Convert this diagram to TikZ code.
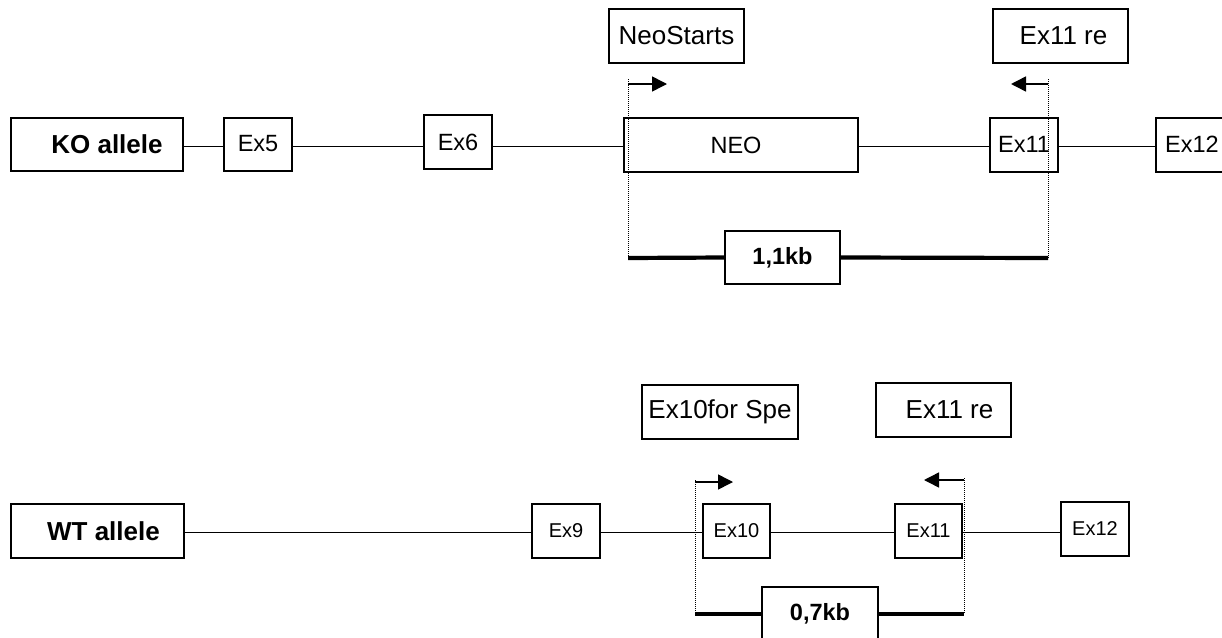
\documentclass[tikz,border=0pt]{standalone}
\usepackage{fontspec}
\setmainfont{Liberation Sans}
\usetikzlibrary{arrows.meta}
\begin{document}
\begin{tikzpicture}[x=1pt,y=-1pt,
  box/.style={draw=black, line width=1.8pt, inner sep=0pt, minimum height=54pt, anchor=center},
  lbl/.style={font=\fontsize{26}{30}\selectfont},
  lblb/.style={font=\fontsize{26}{30}\selectfont\bfseries},
  exk/.style={font=\fontsize{23.5}{28}\selectfont},
  exw/.style={font=\fontsize{20}{24}\selectfont},
  kb/.style={font=\fontsize{23.5}{28}\selectfont\bfseries},
  gline/.style={line width=1.5pt},
  bar/.style={line width=4.2pt},
  dots/.style={densely dotted, line width=1pt},
  primer/.style={line width=1.5pt, -{Triangle[length=15pt,width=15pt]}}
]
\fill[white] (0,0) rectangle (1222,637);
\useasboundingbox (0,0) rectangle (1222,637);

% ---------------- KO allele ----------------
\node[box, lblb, minimum width=172pt, minimum height=53pt] (ko) at (97,144.5) {\hspace*{20pt}KO allele};
\node[box, exk, minimum width=68pt, minimum height=53pt] (ex5) at (258,144.5) {\raisebox{2pt}{Ex5}};
\node[box, exk, minimum width=68pt] (ex6) at (458,142) {Ex6};
\node[box, exk, minimum width=234pt] (neo) at (741,145) {NEO\hspace*{10pt}};
\node[box, exk, minimum width=68pt] (ex11k) at (1024,145) {\raisebox{2pt}{Ex11}};
\node[box, exk, minimum width=72pt] (ex12k) at (1192,145) {\raisebox{2pt}{Ex12}};

\node[box, lbl, minimum width=135pt] (neostart) at (676.5,36) {NeoStarts};
\node[box, lbl, minimum width=135pt] (ex11rek) at (1060.5,36) {\hspace*{6pt}Ex11 re};
\node[box, kb, minimum width=115pt, minimum height=53pt] (kb11) at (782.5,257.5) {1,1kb};

\coordinate (kr) at (0,146.5);
\draw[gline] (ko.east |- kr) -- (ex5.west |- kr);
\draw[gline] (ex5.east |- kr) -- (ex6.west |- kr);
\draw[gline] (ex6.east |- kr) -- (neo.west |- kr);
\draw[gline] (neo.east |- kr) -- (ex11k.west |- kr);
\draw[gline] (ex11k.east |- kr) -- (ex12k.west |- kr);

\coordinate (fkTop) at (628,79);
\coordinate (fkArr) at (628,84);
\coordinate (fkBot) at (628,258);
\coordinate (fkTip) at (667,84);
\coordinate (rkTop) at (1048,79);
\coordinate (rkArr) at (1048,84);
\coordinate (rkBot) at (1048,258);
\coordinate (rkTip) at (1011,84);

\draw[dots] (fkTop) -- (fkBot);
\draw[dots] (rkTop) -- (rkBot);
\draw[primer] (fkArr) -- (fkTip);
\draw[primer] (rkArr) -- (rkTip);
\draw[bar] (fkBot) -- (kb11.west);
\draw[bar] (kb11.east) -- (rkBot);

% ---------------- WT allele ----------------
\node[box, lblb, minimum width=173pt] (wt) at (97.5,531) {\hspace*{12pt}WT allele};
\node[box, exw, minimum width=68pt] (ex9) at (566,531) {\raisebox{-3pt}{Ex9}};
\node[box, exw, minimum width=67pt] (ex10) at (736.5,531) {\raisebox{-3pt}{Ex10}};
\node[box, exw, minimum width=67pt] (ex11w) at (928.5,531) {\raisebox{-3pt}{Ex11}};
\node[box, exw, minimum width=68pt] (ex12w) at (1095,529) {\raisebox{-5pt}{Ex12}};

\node[box, lbl, minimum width=156pt] (ex10for) at (720,412) {Ex10for Spe};
\node[box, lbl, minimum width=135pt] (ex11rew) at (943.5,410) {\hspace*{12pt}Ex11 re};
\node[box, kb, minimum width=116pt] (kb07) at (820,614) {\raisebox{-2pt}{0,7kb}};

\coordinate (wr) at (0,532.5);
\draw[gline] (wt.east |- wr) -- (ex9.west |- wr);
\draw[gline] (ex9.east |- wr) -- (ex10.west |- wr);
\draw[gline] (ex10.east |- wr) -- (ex11w.west |- wr);
\draw[gline] (ex11w.east |- wr) -- (ex12w.west |- wr);

\coordinate (fwTop) at (695,480);
\coordinate (fwArr) at (695,482);
\coordinate (fwBot) at (695,614);
\coordinate (fwTip) at (733,482);
\coordinate (rwTop) at (964,478);
\coordinate (rwArr) at (964,480);
\coordinate (rwBot) at (964,614);
\coordinate (rwTip) at (924,480);

\draw[dots] (fwTop) -- (fwBot);
\draw[dots] (rwTop) -- (rwBot);
\draw[primer] (fwArr) -- (fwTip);
\draw[primer] (rwArr) -- (rwTip);
\draw[bar] (fwBot) -- (kb07.west);
\draw[bar] (kb07.east) -- (rwBot);
\end{tikzpicture}
\end{document}
